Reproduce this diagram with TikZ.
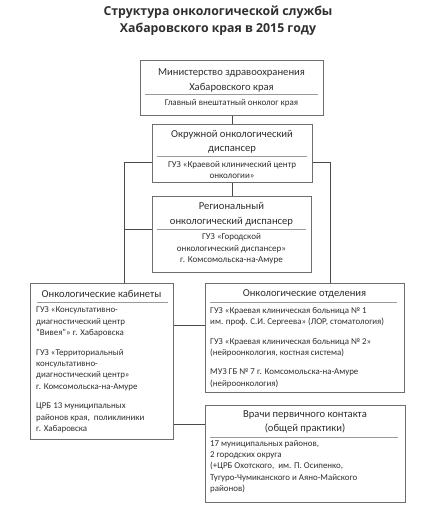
\documentclass[tikz,border=0pt]{standalone}
\usepackage{fontspec}
\setmainfont{Carlito}
\newfontfamily\titlefont{Open Sans}
\definecolor{boxc}{HTML}{6E6E6E}
\definecolor{linec}{HTML}{4A4A4A}
\definecolor{sepc}{HTML}{9A9A9A}
\definecolor{txtc}{HTML}{2E2E2E}
\tikzset{
  box/.style={draw=boxc, line width=0.9pt, inner sep=0pt, anchor=north west},
  conn/.style={draw=linec, line width=0.8pt},
  sepline/.style={draw=sepc, line width=0.6pt},
  hd/.style={text=txtc, font=\fontsize{10.6}{14.5}\selectfont, align=center, inner sep=0pt},
  sm/.style={text=txtc, font=\fontsize{9}{11.5}\selectfont, align=center, inner sep=0pt},
  para/.style={text=txtc, font=\fontsize{8.9}{11.3}\selectfont, align=left, inner sep=0pt, anchor=north west},
  ttl/.style={text=txtc, font=\titlefont\bfseries\fontsize{12.3}{17}\selectfont, align=center, inner sep=0pt}
}
\begin{document}
\begin{tikzpicture}[x=1pt,y=-1pt]
\useasboundingbox[fill=white] (0,0) rectangle (424,517);

\node[ttl] (title) at (218,20.5) {Структура онкологической службы\\Хабаровского края в 2015 году};

% Box 1
\node[box, minimum width=183pt, minimum height=55pt] (b1) at (140,60) {};
\node[hd] (b1t) at (231.5,80.5) {Министерство здравоохранения\\Хабаровского края};
\draw[sepline] (145,94) -- (318,94);
\node[sm] (b1s) at (231.5,103) {Главный внештатный онколог края};

% Box 2
\node[box, minimum width=160pt, minimum height=58pt] (b2) at (152,124) {};
\node[hd] (b2t) at (232,142) {Окружной онкологический\\диспансер};
\draw[sepline] (157,156) -- (307,156);
\node[sm] (b2s) at (232,170) {ГУЗ «Краевой клинический центр\\онкологии»};

% Box 3
\node[box, minimum width=159pt, minimum height=76pt] (b3) at (152,196) {};
\node[hd] (b3t) at (231.5,214.5) {Региональный\\онкологический диспансер};
\draw[sepline] (157,229) -- (306,229);
\node[sm] (b3s) at (231.5,249) {ГУЗ «Городской\\онкологический диспансер»\\г. Комсомольска-на-Амуре};

% Box 4
\node[box, minimum width=143pt, minimum height=156pt] (b4) at (30,283) {};
\node[hd] (b4t) at (101.5,294) {Онкологические кабинеты};
\draw[sepline] (37,302) -- (168,302);
\node[para] (b4p1) at (36,307) {ГУЗ «Консультативно-\\диагностический центр\\“Вивея”» г. Хабаровска};
\node[para] (b4p2) at (36,349) {ГУЗ «Территориальный\\консультативно-\\диагностический центр»\\г. Комсомольска-на-Амуре};
\node[para] (b4p3) at (36,403) {ЦРБ 13 муниципальных\\районов края,\ \ поликлиники\\г. Хабаровска};

% Box 5
\node[box, minimum width=199pt, minimum height=109pt] (b5) at (205,283) {};
\node[hd] (b5t) at (304.5,294) {Онкологические отделения};
\draw[sepline] (210,302) -- (397,302);
\node[para] (b5p1) at (210,307) {ГУЗ «Краевая клиническая больница № 1\\им. проф. С.И. Сергеева» (ЛОР, стоматология)};
\node[para] (b5p2) at (210,338) {ГУЗ «Краевая клиническая больница № 2»\\(нейроонкология, костная система)};
\node[para] (b5p3) at (210,369) {МУЗ ГБ № 7 г. Комсомольска-на-Амуре\\(нейроонкология)};

% Box 6
\node[box, minimum width=200pt, minimum height=97pt] (b6) at (205,405) {};
\node[hd] (b6t) at (305,422) {Врачи первичного контакта\\(общей практики)};
\draw[sepline] (210,437) -- (398,437);
\node[para] (b6p) at (210,440) {17 муниципальных районов,\\2 городских округа\\(+ЦРБ Охотского,\ \ им. П. Осипенко,\\Тугуро-Чумиканского и Аяно-Майского\\районов)};

% Connectors
\coordinate (lt) at (124,162);
\coordinate (rt) at (330,162);
\coordinate (c3) at (124,229);
\coordinate (c45) at (173,325);
\coordinate (c46) at (173,424);
\draw[conn] (b1.south -| 232,0) -- (232,0 |- b2.north);
\draw[conn] (b2.south -| 232,0) -- (232,0 |- b3.north);
\draw[conn] (b2.west |- lt) -- (lt) -- (lt |- b4.north);
\draw[conn] (c3) -- (b3.west |- c3);
\draw[conn] (b2.east |- rt) -- (rt) -- (rt |- b5.north);
\draw[conn] (b4.east |- c45) -- (b5.west |- c45);
\draw[conn] (b4.east |- c46) -- (b6.west |- c46);
\end{tikzpicture}
\end{document}
